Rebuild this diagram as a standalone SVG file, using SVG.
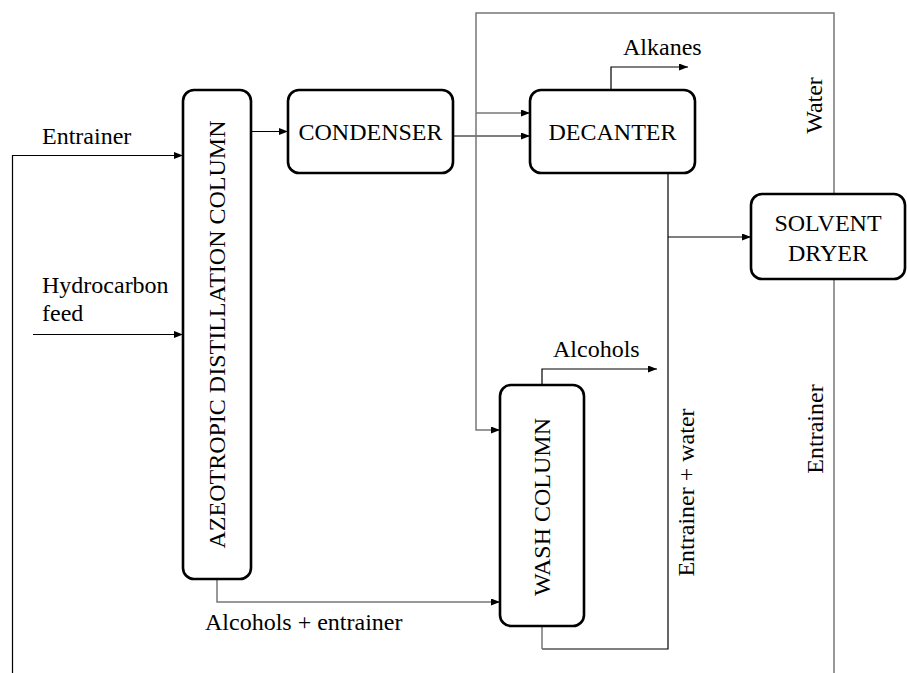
<svg xmlns="http://www.w3.org/2000/svg" width="907" height="673" viewBox="0 0 907 673">
<style>
.box{fill:#fff;stroke:#000;stroke-width:2.6}
.t{font-family:'Liberation Serif','Tinos','DejaVu Serif',serif;font-size:24px;fill:#000}
.c{text-anchor:middle}
.ln{fill:none;stroke:#000;stroke-width:1.2}
.gl{fill:none;stroke:#777;stroke-width:1.5}
</style>
<defs>
<marker id="ah" markerUnits="userSpaceOnUse" markerWidth="10" markerHeight="8" refX="9" refY="3.5" orient="auto">
<path d="M0,0 L9,3.5 L0,7 z" fill="#000"/>
</marker>
</defs>
<g id="connectors">
<path class="ln" d="M12.5,673 V155.5 H183" marker-end="url(#ah)"/>
<path class="ln" d="M33,334.5 H183" marker-end="url(#ah)"/>
<path class="ln" d="M251,131.5 H288" marker-end="url(#ah)"/>
<path class="ln" d="M453,136 H530" marker-end="url(#ah)"/>
<path class="gl" d="M834,194 V13 H476 V430 H500" marker-end="url(#ah)"/>
<path class="gl" d="M476,113 H530" marker-end="url(#ah)"/>
<path class="gl" d="M834,279 V673"/>
<path class="ln" d="M611,90 V67 H688" marker-end="url(#ah)"/>
<path class="ln" d="M668,173 V649 H542"/>
<path class="gl" d="M542,649 V626"/>
<path class="ln" d="M668,237 H751" marker-end="url(#ah)"/>
<path class="ln" d="M542,385 V369 H657" marker-end="url(#ah)"/>
<path class="gl" d="M217,579 V602 H500" marker-end="url(#ah)"/>
</g>
<g id="azeotropic-column">
<rect class="box" x="183" y="90" width="68" height="489" rx="11"/>
<text class="t c" font-family="Liberation Serif, serif" transform="translate(225,334.5) rotate(-90)">AZEOTROPIC DISTILLATION COLUMN</text>
</g>
<g id="condenser">
<rect class="box" x="288" y="90" width="165" height="83" rx="11"/>
<text class="t c" x="370.5" y="140">CONDENSER</text>
</g>
<g id="decanter">
<rect class="box" x="530" y="90" width="165" height="83" rx="11"/>
<text class="t c" x="612.5" y="140">DECANTER</text>
</g>
<g id="solvent-dryer">
<rect class="box" x="751" y="194" width="154" height="85" rx="11"/>
<text class="t c" x="828" y="231">SOLVENT</text>
<text class="t c" x="828" y="261">DRYER</text>
</g>
<g id="wash-column">
<rect class="box" x="500" y="385" width="84" height="241" rx="11"/>
<text class="t c" transform="translate(550,507) rotate(-90)">WASH COLUMN</text>
</g>
<g id="labels">
<text class="t" x="42" y="144">Entrainer</text>
<text class="t" x="42" y="293">Hydrocarbon</text>
<text class="t" x="42" y="321">feed</text>
<text class="t" x="623" y="55">Alkanes</text>
<text class="t" x="553" y="357">Alcohols</text>
<text class="t" x="205" y="630">Alcohols + entrainer</text>
<text class="t c" transform="translate(822,105.5) rotate(-90)">Water</text>
<text class="t c" transform="translate(823,429) rotate(-90)">Entrainer</text>
<text class="t c" transform="translate(694,492.5) rotate(-90)">Entrainer + water</text>
</g>
</svg>
